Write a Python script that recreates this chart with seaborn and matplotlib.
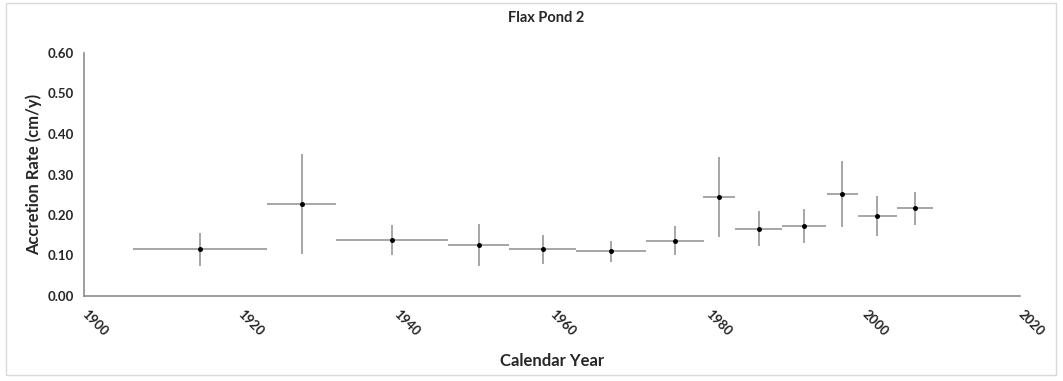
import numpy as np
import pandas as pd
import seaborn as sns
import matplotlib.pyplot as plt
from matplotlib.patches import Rectangle

# Data
year = [1914.9, 1927.9, 1939.5, 1950.6, 1958.8, 1967.6, 1975.8,
        1981.4, 1986.5, 1992.3, 1997.2, 2001.7, 2006.5]
year_err = [8.6, 4.4, 7.2, 3.9, 4.3, 4.5, 3.7,
            2.1, 3.0, 2.85, 2.0, 2.5, 2.3]
rate = [0.115, 0.227, 0.138, 0.127, 0.115, 0.110, 0.137,
        0.244, 0.166, 0.173, 0.252, 0.198, 0.217]
rate_err = [0.040, 0.123, 0.037, 0.052, 0.036, 0.026, 0.036,
            0.099, 0.043, 0.042, 0.082, 0.049, 0.041]

df = pd.DataFrame({"year": year, "year_err": year_err,
                   "rate": rate, "rate_err": rate_err})

sns.set_style("white")
plt.rcParams["font.family"] = ["Lato", "DejaVu Sans"]

fig = plt.figure(figsize=(10.63, 3.81), dpi=100)
ax = fig.add_axes([84 / 1063, 1 - 296 / 381, 936 / 1063, 243 / 381])

# error bars first, then the points on top
ax.errorbar(df["year"], df["rate"], xerr=df["year_err"], yerr=df["rate_err"],
            fmt="none", ecolor="#a6a6a6", elinewidth=1.4, capsize=0, zorder=2)
sns.scatterplot(data=df, x="year", y="rate", ax=ax, color="black",
                s=13, edgecolor="black", linewidth=0, zorder=3, legend=False)

ax.set_xlim(1900, 2020)
ax.set_ylim(0, 0.6)
ax.set_xticks(np.arange(1900, 2021, 20))
ax.set_yticks(np.arange(0, 0.61, 0.1))
ax.set_yticklabels([f"{v:.2f}" for v in np.arange(0, 0.61, 0.1)])

for s in ["top", "right"]:
    ax.spines[s].set_visible(False)
for s in ["left", "bottom"]:
    ax.spines[s].set_color("#8c8c8c")
    ax.spines[s].set_linewidth(1.2)

ax.tick_params(axis="both", direction="out", length=4, width=1,
               color="#8c8c8c", labelsize=9.5, labelcolor="#262626")
ax.tick_params(axis="x", pad=8)
for lbl in ax.get_xticklabels():
    lbl.set_rotation(-45)
    lbl.set_rotation_mode("anchor")
    lbl.set_ha("left")
    lbl.set_va("center")
    lbl.set_fontweight("bold")
for lbl in ax.get_yticklabels():
    lbl.set_fontweight("bold")

ax.set_xlabel("Calendar Year", fontsize=12, fontweight="bold",
              color="#262626", labelpad=10)
ax.set_ylabel("Accretion Rate (cm/y)", fontsize=12, fontweight="bold",
              color="#262626", labelpad=4)
fig.text(546 / 1063, 1 - 18 / 381, "Flax Pond 2", ha="center", va="center",
         fontsize=10.5, fontweight="bold", color="#262626")

# light frame around the whole chart area
fig.patches.append(Rectangle((6 / 1063, 6 / 381), 1050 / 1063, 372 / 381,
                             transform=fig.transFigure, fill=False,
                             edgecolor="#d9d9d9", linewidth=1))

fig.savefig("out.png", dpi=100)
plt.close(fig)
